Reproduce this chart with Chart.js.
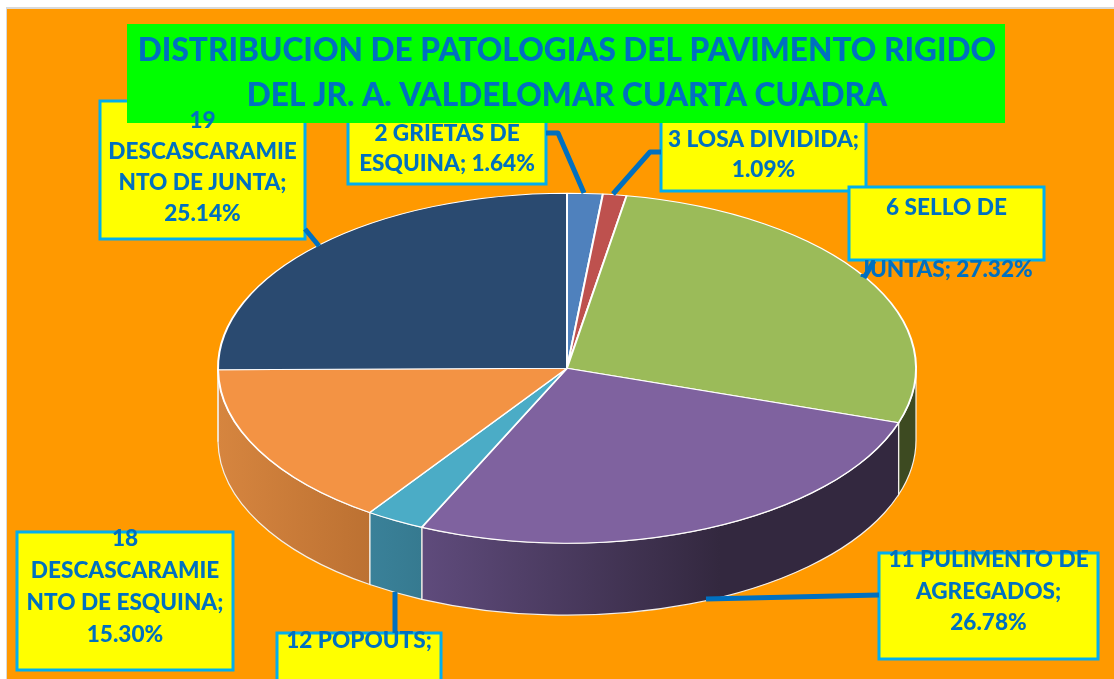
<!DOCTYPE html>
<html><head><meta charset="utf-8">
<style>html,body{margin:0;padding:0;background:#fff}#w{width:1114px;height:679px;position:relative}</style>
<script src="https://cdn.jsdelivr.net/npm/chart.js@4/dist/chart.umd.min.js"></script>
</head><body><div id="w"><canvas id="c"></canvas></div>
<script>
const categories = ['2 GRIETAS DE ESQUINA','3 LOSA DIVIDIDA','6 SELLO DE JUNTAS','11 PULIMENTO DE AGREGADOS','12 POPOUTS','18 DESCASCARAMIENTO DE ESQUINA','19 DESCASCARAMIENTO DE JUNTA'];
const percents = [1.64,1.09,27.32,26.78,2.73,15.30,25.14];
const sliceColors = ['#4F81BD','#BE514E','#9BBB59','#7F629F','#4BACC6','#F39344','#2A4A70'];
const wallLeft = ['#3A5F8C','#8C3B39','#3D4A21','#5F4B7C','#3A8199','#D6853F','#1F3753'];
const wallRight = ['#3A5F8C','#8C3B39','#3D4A21','#33283F','#367A90','#BC7132','#1F3753'];
const titleLines = ['DISTRIBUCION DE PATOLOGIAS DEL PAVIMENTO RIGIDO','DEL JR. A. VALDELOMAR CUARTA CUADRA'];
const labelLines = [
  ['2 GRIETAS DE','ESQUINA; 1.64%'],
  ['3 LOSA DIVIDIDA;','1.09%'],
  ['6 SELLO DE','','JUNTAS; 27.32%'],
  ['11 PULIMENTO DE','AGREGADOS;','26.78%'],
  ['12 POPOUTS;'],
  ['18','DESCASCARAMIE','NTO DE ESQUINA;','15.30%'],
  ['19','DESCASCARAMIE','NTO DE JUNTA;','25.14%']
];

const BLUE='#0070C0', EDGE='#00AEEF';
const RX=349, RY=175, DEPTH=72;
// label boxes: x, y, w, h, first text line centre y, line pitch
const boxes=[
 [348,100,198,84,134,30],
 [661,100,205,91,140,30],
 [849,187,195,73,208,31],
 [879,553,219,106,560,31.5],
 [277,633,164,60,641,31],
 [17,532,216,138,539,32],
 [100,101,205,138,121,31]
];
const leaders=[
 [[546,133],[558,133],[584,193]],
 [[661,152],[650,152],[613,194]],
 [[874,261],[864,278]],
 [[879,595],[706,599]],
 [[395,633],[395,592]],
 [],
 [[305,229],[319,246]]
];

const piePlugin={
 id:'pie3d',
 beforeDraw(ch){
  const c=ch.ctx;
  c.save();
  c.fillStyle='#fff';c.fillRect(0,0,1114,679);
  c.fillStyle='#D9D9D9';c.fillRect(6,7,1108,672);
  c.fillStyle='#FF9900';c.fillRect(7,9,1107,670);
  boxes.forEach(b=>{
    c.fillStyle='#FFFF00';c.fillRect(b[0],b[1],b[2],b[3]);
    c.strokeStyle=EDGE;c.lineWidth=3;c.strokeRect(b[0],b[1],b[2],b[3]);
  });
  c.fillStyle='#00FF00';c.fillRect(127,24,878,99);
  c.restore();
 },
 beforeDatasetsDraw(ch){
  const c=ch.ctx, arcs=ch.getDatasetMeta(0).data;
  const cx=arcs[0].x, cy=arcs[0].y;
  c.save();
  arcs.forEach((a,i)=>{
    const s=Math.max(a.startAngle,0), e=Math.min(a.endAngle,Math.PI);
    if(e<=s) return;
    const x0=cx+RX*Math.cos(e), x1=cx+RX*Math.cos(s);
    const g=c.createLinearGradient(x0,0,Math.min(x1,720),0);
    g.addColorStop(0,wallLeft[i]);g.addColorStop(1,wallRight[i]);
    c.beginPath();
    c.ellipse(cx,cy,RX,RY,0,s,e);
    c.ellipse(cx,cy+DEPTH,RX,RY,0,e,s,true);
    c.closePath();
    c.fillStyle=g;c.fill();
    c.strokeStyle='#F4F0EA';c.lineWidth=1.2;c.stroke();
  });
  c.restore();
  c.save();
  c.translate(cx,cy);c.scale(1,RY/RX);c.translate(-cx,-cy);
 },
 afterDatasetsDraw(ch){
  const c=ch.ctx;
  c.restore();
  c.save();
  c.strokeStyle=BLUE;c.lineWidth=5;c.lineJoin='round';
  leaders.forEach(l=>{
    if(!l.length) return;
    c.beginPath();l.forEach((p,i)=>i?c.lineTo(p[0],p[1]):c.moveTo(p[0],p[1]));c.stroke();
  });
  c.fillStyle=BLUE;c.font='900 22.6px Lato';c.textAlign='center';c.textBaseline='middle';
  labelLines.forEach((ls,i)=>{
    const b=boxes[i];
    ls.forEach((t,j)=>{ if(t) c.fillText(t,b[0]+b[2]/2,b[4]+j*b[5]); });
  });
  c.restore();
 }
};

new Chart(document.getElementById('c'),{
 type:'pie',
 data:{labels:categories,datasets:[{data:percents,backgroundColor:sliceColors,borderColor:'#FFFFFF',borderWidth:2,clip:false,radius:RX}]},
 plugins:[piePlugin],
 options:{
  responsive:true,maintainAspectRatio:false,animation:false,
  layout:{padding:{left:20,right:0,top:0,bottom:65}},
  plugins:{
   legend:{display:false},tooltip:{enabled:false},
   title:{display:true,text:titleLines,color:BLUE,font:{family:'Lato',weight:900,size:31.6,lineHeight:1.43},padding:{top:28,bottom:4}}
  }
 }
});
</script></body></html>
